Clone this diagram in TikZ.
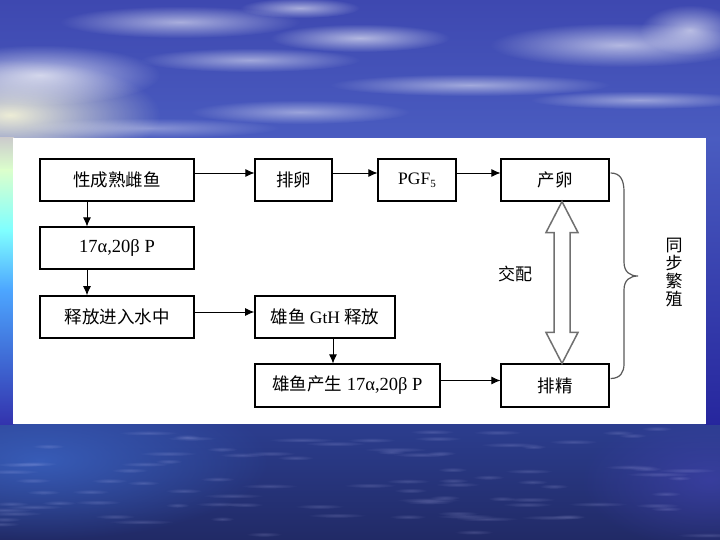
\documentclass[tikz,border=0pt]{standalone}
\usepackage{fontspec}
\setmainfont{Liberation Serif}
\newfontfamily\cjk{Noto Sans CJK SC}
\usetikzlibrary{arrows.meta,calc,fadings}

\definecolor{skyTop}{HTML}{3E48B0}
\definecolor{skyLow}{HTML}{4A5CC0}
\definecolor{seaTop}{HTML}{2C3E90}
\definecolor{seaBot}{HTML}{212A66}
\definecolor{seaLight}{HTML}{3A62C0}
\definecolor{braceGrey}{HTML}{5A5A5A}
\definecolor{arrowGrey}{HTML}{707070}

\tikzfading[name=softedge, inner color=transparent!0, outer color=transparent!100]

\begin{document}
\begin{tikzpicture}[x=1pt,y=-1pt,
  box/.style={draw=black, line width=1.1pt, fill=white, minimum height=42pt,
    inner sep=0pt, font=\fontsize{17.5}{20}\selectfont},
  boldbox/.style={box, line width=1.6pt},
  flow/.style={-{Latex[length=9pt,width=8pt]}, line width=0.9pt, black},
  cloud/.style={white, path fading=softedge, opacity=#1},
  cloud/.default=0.6]

\useasboundingbox (0,0) rectangle (720,540);

% ---- sky ----
\shade[top color=skyTop, bottom color=skyLow] (0,0) rectangle (720,140);
\fill[cloud=0.9, color=yellow!15!white] (10,115) ellipse (150 and 55);
\fill[cloud=0.7] (40,75) ellipse (120 and 30);
\fill[cloud=0.55] (180,22) ellipse (120 and 16);
\fill[cloud=0.55] (300,8) ellipse (60 and 10);
\fill[cloud=0.6] (360,38) ellipse (90 and 14);
\fill[cloud=0.5] (250,60) ellipse (110 and 12);
\fill[cloud=0.6] (620,45) ellipse (130 and 22);
\fill[cloud=0.6] (690,30) ellipse (50 and 25);
\fill[cloud=0.5] (470,85) ellipse (140 and 11);
\fill[cloud=0.45] (640,100) ellipse (110 and 9);
\fill[cloud=0.45] (300,112) ellipse (110 and 12);
\fill[cloud=0.35] (150,128) ellipse (130 and 10);

% ---- sea ----
\shade[top color=seaTop, bottom color=seaBot] (0,420) rectangle (720,540);
\fill[path fading=softedge, color=seaLight, opacity=0.85] (40,460) ellipse (230 and 80);
\fill[path fading=softedge, color=gray!55!blue, opacity=0.55] (710,480) ellipse (130 and 70);
% soft ripples on the water
\pgfmathsetseed{11}
\foreach \i in {1,...,90} {
  \pgfmathsetmacro\rx{rnd*720}
  \pgfmathsetmacro\ry{428+rnd*110}
  \pgfmathsetmacro\rl{12+rnd*22}
  \fill[cloud=0.18, color=blue!20!white] (\rx,\ry) ellipse (\rl pt and 2.5pt);
}

% ---- side strips beside the panel ----
\shade[top color=gray!40!white, bottom color=yellow!30!green!20!white] (0,138) rectangle (14,170);
\shade[top color=yellow!30!green!20!white, bottom color=cyan!50!white] (0,170) rectangle (14,230);
\shade[top color=cyan!50!white, bottom color=blue!50!cyan!70!white] (0,230) rectangle (14,290);
\shade[top color=blue!50!cyan!70!white, bottom color=blue!60!black!80!white] (0,290) rectangle (14,424);
\shade[top color=skyLow, bottom color=blue!55!black!85!white] (705,138) rectangle (720,424);

% ---- white panel ----
\fill[white] (13,138) rectangle (706,424);

% ---- boxes ----
\node[box, minimum width=154pt] (female)   at (117,180)   {\cjk 性成熟雌鱼};
\node[box, minimum width=77pt]  (ovul)     at (293.5,180) {\cjk 排卵};
\node[box, minimum width=78pt]  (pgf)      at (417,180)   {PGF\raisebox{-3pt}{\fontsize{11}{11}\selectfont 5}};
\node[box, minimum width=154pt] (steroid)  at (117,248)   {\fontsize{18.5}{20}\selectfont 17α,20β P};
\node[box, minimum width=108pt] (spawn)    at (555,180)   {\cjk 产卵};
\node[boldbox, minimum width=154pt] (water) at (117,317)  {\cjk 释放进入水中};
\node[boldbox, minimum width=140pt] (gth)  at (325,317)   {{\cjk 雄鱼} GtH {\cjk 释放}};
\node[box, minimum width=185pt, minimum height=43pt] (male) at (347.5,385.5)
  {{\cjk 雄鱼产生} {\fontsize{18.5}{20}\selectfont 17α,20β P}};
\node[box, minimum width=108pt, minimum height=43pt] (sperm) at (555,385.5) {\cjk 排精};

% ---- flow arrows ----
\draw[flow] ($(female.east)+(0,-7)$) -- ($(ovul.west)+(0,-7)$);
\draw[flow] ($(ovul.east)+(0,-7)$) -- ($(pgf.west)+(0,-7)$);
\draw[flow] ($(pgf.east)+(0,-7)$) -- ($(spawn.west)+(0,-7)$);
\draw[flow] (female.south -| 87,0) -- (steroid.north -| 87,0);
\draw[flow] (steroid.south -| 87,0) -- (water.north -| 87,0);
\draw[flow] ($(water.east)+(0,-5)$) -- ($(gth.west)+(0,-5)$);
\draw[flow] (gth.south -| 333,0) -- (male.north -| 333,0);
\draw[flow] ($(male.east)+(0,-5)$) -- ($(sperm.west)+(0,-5)$);

% ---- hollow double arrow for mating ----
\coordinate (up)   at (spawn.south -| 562,0);
\coordinate (down) at (sperm.north -| 562,0);
\draw[arrowGrey, line width=1.5pt, fill=white, line join=miter]
  (up) -- ++(16,31) -- ++(-8,0) |- ($(down)+(8,-31)$) -- ++(8,0) -- (down)
  -- ++(-16,-31) -- ++(8,0) |- ($(up)+(-8,31)$) -- ++(-8,0) -- cycle;
\node[font=\fontsize{17}{20}\selectfont] (mate) at (515,274) {\cjk 交配};

% ---- brace joining spawning and sperm release ----
\coordinate (bTop) at ($(spawn.east)+(1,-7)$);
\coordinate (bBot) at ($(sperm.east)+(1,-7)$);
\coordinate (bTip) at (638,276);
\draw[braceGrey, line width=1.2pt]
  (bTop) .. controls +(10,0) and (624,180) .. (624,192) -- (624,262)
  .. controls (624,272) and (630,276) .. (bTip)
  .. controls (630,276) and (624,280) .. (624,290) -- (624,364)
  .. controls (624,372) and ($(bBot)+(10,0)$) .. (bBot);
\node[font=\fontsize{17}{19}\selectfont, align=center] (sync) at (674,273)
  {\cjk 同\\[-1pt]\cjk 步\\[-1pt]\cjk 繁\\[-1pt]\cjk 殖};

\end{tikzpicture}
\end{document}
